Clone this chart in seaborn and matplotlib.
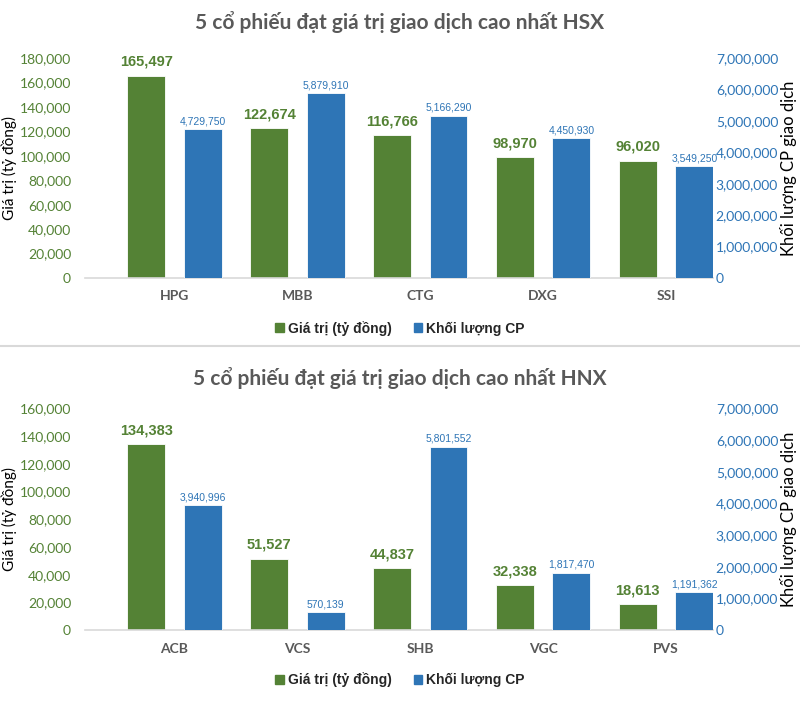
import matplotlib
matplotlib.use("Agg")
import matplotlib.pyplot as plt
import seaborn as sns
import pandas as pd
from matplotlib.patches import Patch
from matplotlib.lines import Line2D
from matplotlib.ticker import FuncFormatter, MultipleLocator

# data
hsx_codes = ["HPG", "MBB", "CTG", "DXG", "SSI"]
hsx_value = [165497, 122674, 116766, 98970, 96020]
hsx_volume = [4729750, 5879910, 5166290, 4450930, 3549250]

hnx_codes = ["ACB", "VCS", "SHB", "VGC", "PVS"]
hnx_value = [134383, 51527, 44837, 32338, 18613]
hnx_volume = [3940996, 570139, 5801552, 1817470, 1191362]

series = ["Giá trị (tỷ đồng)", "Khối lượng CP"]

GREEN = "#548235"
BLUE = "#2E75B6"
GRAY = "#595959"
NARROW = ["Liberation Sans Narrow", "Liberation Sans", "DejaVu Sans"]

sns.set_theme(style="white")
plt.rcParams["font.family"] = ["Lato", "DejaVu Sans"]

fig = plt.figure(figsize=(8, 7.26), dpi=100)
thousands = FuncFormatter(lambda v, p: f"{v:,.0f}")


def label_bars(ax, **kw):
    # seaborn may leave empty containers for the missing hue level
    for c in ax.containers:
        if len(c) > 0:
            ax.bar_label(c, fmt="{:,.0f}", family=NARROW, **kw)


def draw_panel(rect, codes, value, volume, title, title_y, ymax, legend_y):
    ax = fig.add_axes(rect)
    ax2 = ax.twinx()
    pal = {series[0]: GREEN, series[1]: BLUE}
    df_val = pd.DataFrame({"ma": codes, "v": value, "s": series[0]})
    df_vol = pd.DataFrame({"ma": codes, "v": volume, "s": series[1]})

    sns.barplot(data=df_val, x="ma", y="v", hue="s", hue_order=series, order=codes,
                palette=pal, saturation=1, dodge=True, width=0.92, gap=0.33,
                edgecolor="white", linewidth=0.6, legend=False, ax=ax)
    sns.barplot(data=df_vol, x="ma", y="v", hue="s", hue_order=series, order=codes,
                palette=pal, saturation=1, dodge=True, width=0.92, gap=0.33,
                edgecolor="white", linewidth=0.6, legend=False, ax=ax2)

    label_bars(ax, padding=5, color=GREEN, fontweight="bold", fontsize=10.5)
    label_bars(ax2, padding=2, color=BLUE, fontsize=7.5)

    ax.set_xlim(-0.728, 4.382)
    ax.set_ylim(0, ymax)
    ax2.set_ylim(0, 7000000)
    ax.yaxis.set_major_locator(MultipleLocator(20000))
    ax2.yaxis.set_major_locator(MultipleLocator(1000000))
    ax.yaxis.set_major_formatter(thousands)
    ax2.yaxis.set_major_formatter(thousands)

    ax.set_xlabel("")
    ax2.set_xlabel("")
    ax.set_ylabel("Giá trị (tỷ đồng)", fontsize=11, color="black")
    ax2.set_ylabel("Khối lượng CP giao dịch", fontsize=12, color="black")
    ax.yaxis.set_label_coords(-0.109, 0.5)
    ax2.yaxis.set_label_coords(1.106, 0.5)

    ax.tick_params(axis="y", length=0, pad=10, labelsize=10, labelcolor=GREEN)
    ax2.tick_params(axis="y", length=0, pad=2, labelsize=10, labelcolor=BLUE)
    ax.tick_params(axis="x", length=0, pad=9, labelsize=10, labelcolor=GRAY)
    for lab in ax.get_xticklabels():
        lab.set_fontweight("bold")

    for s in ["top", "left", "right"]:
        ax.spines[s].set_visible(False)
    ax.spines["bottom"].set_color("#D9D9D9")
    ax.spines["bottom"].set_linewidth(1.2)
    for s in ax2.spines.values():
        s.set_visible(False)

    fig.text(0.5, title_y, title, ha="center", va="center", fontsize=15,
             fontweight="bold", color=GRAY)

    handles = [Patch(color=GREEN, label=series[0]), Patch(color=BLUE, label=series[1])]
    fig.legend(handles=handles, loc="center", bbox_to_anchor=(0.5, legend_y), ncol=2,
               frameon=False, handlelength=0.6, handleheight=0.6, handletextpad=0.3,
               columnspacing=1.6,
               prop={"family": ["Liberation Sans", "DejaVu Sans"], "weight": "bold", "size": 10})


draw_panel([0.10625, 0.6171, 0.785, 0.303], hsx_codes, hsx_value, hsx_volume,
           "5 cổ phiếu đạt giá trị giao dịch cao nhất HSX", 0.970, 180000, 0.548)
draw_panel([0.10625, 0.1322, 0.785, 0.305], hnx_codes, hnx_value, hnx_volume,
           "5 cổ phiếu đạt giá trị giao dịch cao nhất HNX", 0.479, 160000, 0.0634)

# thin divider between the two charts
fig.add_artist(Line2D([0, 1], [0.5234, 0.5234], transform=fig.transFigure,
                      color="#D9D9D9", linewidth=1.5))

fig.savefig("out.png", dpi=100)
